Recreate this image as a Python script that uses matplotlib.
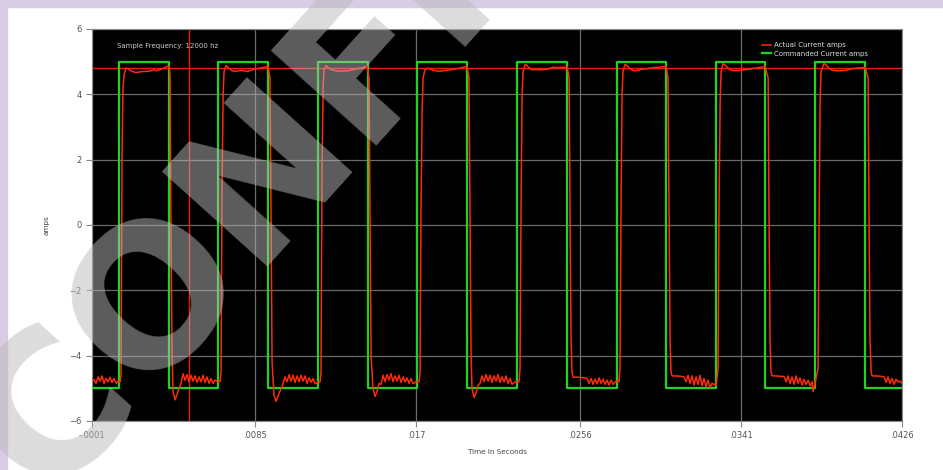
import matplotlib
matplotlib.use("Agg")
import matplotlib.pyplot as plt
from matplotlib.patches import Rectangle
import numpy as np

# commanded square wave edges (ms)
cmd_rise_ms = [1.32, 6.54, 11.81, 17.03, 22.30, 27.58, 32.80, 38.01]
cmd_fall_ms = [3.96, 9.18, 14.45, 19.67, 24.94, 30.16, 35.38, 40.65]
cmd_high = 5.0
cmd_low = -5.0

# actual current trace (time in ms, amps)
actual_ms = [
    -0.10, 0.01, 0.11, 0.22, 0.32, 0.43, 0.53, 0.64, 0.74, 0.85, 0.95, 1.06, 1.17, 1.27, 1.38,
    1.43, 1.48, 1.53, 1.59, 1.69,
    1.80, 1.96, 2.11, 2.27, 2.43, 2.59, 2.75, 2.90, 3.06, 3.17, 3.27, 3.43, 3.59, 3.75, 3.85, 3.96,
    4.01, 4.06, 4.12, 4.17, 4.28,
    4.43, 4.59, 4.70, 4.80, 4.91, 5.01, 5.12, 5.22, 5.33, 5.44, 5.54, 5.65, 5.75, 5.86, 5.96,
    6.07, 6.17, 6.28, 6.38, 6.54, 6.65,
    6.70, 6.75, 6.81, 6.86, 6.96,
    7.12, 7.28, 7.49, 7.70, 7.91, 8.12, 8.33, 8.55, 8.76, 8.97, 9.18,
    9.28, 9.34, 9.39, 9.49, 9.60,
    9.76, 9.92, 10.07, 10.18, 10.29, 10.39, 10.50, 10.60, 10.71, 10.81, 10.92, 11.02, 11.13,
    11.23, 11.34, 11.45, 11.55, 11.66, 11.81, 11.92,
    11.97, 12.02, 12.08, 12.13, 12.24,
    12.39, 12.55, 12.76, 12.97, 13.18, 13.40, 13.61, 13.82, 14.03, 14.24, 14.40,
    14.50, 14.56, 14.61, 14.71, 14.82,
    14.92, 15.03, 15.14, 15.24, 15.35, 15.45, 15.56, 15.66, 15.77, 15.87, 15.98, 16.08, 16.19,
    16.30, 16.40, 16.51, 16.61, 16.72, 16.82, 16.98, 17.14,
    17.19, 17.24, 17.30, 17.35, 17.45, 17.61,
    17.82, 18.03, 18.25, 18.46, 18.67, 18.88, 19.09, 19.30, 19.51, 19.67,
    19.77, 19.83, 19.88, 19.93, 20.04,
    20.14, 20.25, 20.35, 20.46, 20.56, 20.67, 20.78, 20.88, 20.99, 21.09, 21.20, 21.30, 21.41,
    21.51, 21.62, 21.72, 21.83, 21.94, 22.04, 22.20, 22.41,
    22.46, 22.52, 22.57, 22.62, 22.73,
    22.83, 22.99, 23.15, 23.36, 23.57, 23.78, 23.99, 24.20, 24.41, 24.62, 24.83, 24.94,
    25.05, 25.10, 25.15, 25.20, 25.26,
    25.47, 25.68, 25.89, 25.99, 26.10, 26.21, 26.31, 26.42, 26.52, 26.63, 26.73, 26.84, 26.94,
    27.05, 27.15, 27.26, 27.37, 27.52, 27.68,
    27.73, 27.79, 27.84, 27.89, 28.00,
    28.10, 28.26, 28.47, 28.68, 28.89, 29.10, 29.32, 29.53, 29.74, 29.95, 30.16,
    30.26, 30.32, 30.37, 30.42, 30.48,
    30.69, 30.90, 31.11, 31.21, 31.32, 31.42, 31.53, 31.64, 31.74, 31.85, 31.95, 32.06, 32.16,
    32.27, 32.37, 32.48, 32.58, 32.80,
    32.90, 32.95, 33.01, 33.06, 33.16,
    33.27, 33.43, 33.59, 33.80, 34.01, 34.22, 34.43, 34.64, 34.85, 35.06, 35.27, 35.38,
    35.54, 35.59, 35.64, 35.69, 35.75,
    35.96, 36.17, 36.38, 36.49, 36.59, 36.70, 36.80, 36.91, 37.01, 37.12, 37.22, 37.33, 37.43,
    37.54, 37.65, 37.75, 37.86, 37.91, 38.01,
    38.17, 38.23, 38.28, 38.33, 38.49,
    38.59, 38.75, 38.91, 39.12, 39.33, 39.54, 39.75, 39.96, 40.18, 40.39, 40.60, 40.65,
    40.81, 40.86, 40.91, 40.97, 41.02,
    41.23, 41.44, 41.65, 41.76, 41.86, 41.97, 42.07, 42.18, 42.28, 42.39, 42.49, 42.60,
]
actual_amps = [
    -4.70, -4.75, -4.85, -4.65, -4.78, -4.62, -4.85, -4.70, -4.80, -4.66, -4.82, -4.70, -4.85, -4.78, -4.80,
    -4.60, 2.00, 4.20, 4.60, 4.80,
    4.78, 4.72, 4.68, 4.67, 4.69, 4.70, 4.70, 4.71, 4.73, 4.76, 4.72, 4.75, 4.78, 4.82, 4.86, 4.85,
    4.60, 0.00, -4.00, -5.10, -5.35,
    -5.10, -4.85, -4.55, -4.75, -4.58, -4.80, -4.60, -4.78, -4.62, -4.82, -4.65, -4.80, -4.60, -4.82, -4.65,
    -4.85, -4.70, -4.85, -4.75, -4.80, -4.80,
    -4.50, 1.00, 4.00, 4.70, 4.88,
    4.80, 4.72, 4.70, 4.73, 4.72, 4.70, 4.75, 4.78, 4.80, 4.83, 4.85,
    4.50, 0.00, -4.20, -5.20, -5.40,
    -5.15, -4.95, -4.65, -4.80, -4.58, -4.78, -4.60, -4.82, -4.62, -4.80, -4.60, -4.78, -4.62,
    -4.85, -4.68, -4.82, -4.70, -4.86, -4.80, -4.80,
    -4.50, 1.50, 4.20, 4.75, 4.88,
    4.80, 4.75, 4.72, 4.70, 4.72, 4.72, 4.75, 4.78, 4.80, 4.83, 4.86,
    4.50, 0.00, -4.00, -5.00, -5.25,
    -5.10, -4.85, -4.88, -4.60, -4.80, -4.58, -4.75, -4.55, -4.80, -4.62, -4.78, -4.60, -4.82,
    -4.65, -4.80, -4.68, -4.85, -4.70, -4.86, -4.80, -4.80,
    -4.50, 0.50, 3.50, 4.50, 4.75, 4.80,
    4.75, 4.72, 4.70, 4.73, 4.74, 4.76, 4.78, 4.80, 4.84, 4.86,
    4.50, 0.00, -4.00, -5.00, -5.28,
    -5.15, -4.90, -4.85, -4.62, -4.80, -4.58, -4.78, -4.60, -4.82, -4.62, -4.78, -4.58, -4.82,
    -4.65, -4.80, -4.62, -4.85, -4.70, -4.88, -4.80, -4.80,
    -4.40, 1.00, 4.00, 4.70, 4.92,
    4.88, 4.78, 4.75, 4.76, 4.75, 4.76, 4.78, 4.83, 4.82, 4.82, 4.83, 4.85,
    4.50, 0.00, -3.50, -4.50, -4.66,
    -4.66, -4.67, -4.68, -4.70, -4.85, -4.70, -4.88, -4.72, -4.86, -4.68, -4.85, -4.72, -4.88,
    -4.75, -4.90, -4.75, -4.88, -4.78, -4.80,
    -4.40, 1.00, 4.00, 4.70, 4.92,
    4.88, 4.78, 4.72, 4.74, 4.77, 4.78, 4.80, 4.82, 4.83, 4.84, 4.86,
    4.50, 0.00, -3.50, -4.50, -4.62,
    -4.62, -4.63, -4.65, -4.80, -4.60, -4.85, -4.62, -4.90, -4.65, -4.88, -4.60, -4.92, -4.70,
    -4.95, -4.75, -4.98, -4.85, -4.90,
    -4.40, 0.50, 3.80, 4.70, 4.95,
    4.90, 4.80, 4.74, 4.72, 4.73, 4.75, 4.76, 4.78, 4.80, 4.82, 4.84, 4.85,
    4.50, 0.00, -3.50, -4.50, -4.62,
    -4.62, -4.63, -4.64, -4.80, -4.62, -4.85, -4.65, -4.88, -4.62, -4.85, -4.68, -4.90, -4.72,
    -4.88, -4.75, -4.92, -4.80, -5.10, -4.85,
    -4.40, 0.50, 3.80, 4.70, 4.96,
    4.90, 4.80, 4.74, 4.72, 4.72, 4.73, 4.75, 4.78, 4.80, 4.81, 4.82, 4.83,
    4.50, 0.00, -3.50, -4.50, -4.62,
    -4.62, -4.63, -4.65, -4.82, -4.65, -4.85, -4.70, -4.88, -4.72, -4.80, -4.78, -4.85,
]

cursor_amps = 4.81
cursor_time = 0.00501

x_ticks = [-0.0001, 0.0085, 0.017, 0.0256, 0.0341, 0.0426]
x_labels = ['-.0001', '.0085', '.017', '.0256', '.0341', '.0426']
y_ticks = [-6, -4, -2, 0, 2, 4, 6]

# build commanded step trace from the edges
cmd_t = [x_ticks[0]]
cmd_v = [cmd_low]
for r, f in zip(cmd_rise_ms, cmd_fall_ms):
    cmd_t += [r / 1000, r / 1000, f / 1000, f / 1000]
    cmd_v += [cmd_low, cmd_high, cmd_high, cmd_low]
cmd_t.append(x_ticks[-1])
cmd_v.append(cmd_low)

act_t = np.array(actual_ms) / 1000

fig = plt.figure(figsize=(9.43, 4.70), dpi=100)
fig.patch.set_facecolor('white')
lav = '#d9cde6'
fig.patches.append(Rectangle((0, 1 - 7 / 470), 1, 7 / 470, transform=fig.transFigure,
                             color=lav, zorder=0))
fig.patches.append(Rectangle((0, 0), 7 / 943, 1, transform=fig.transFigure,
                             color=lav, zorder=0))

ax = fig.add_axes([0.0976, 0.1043, 0.859, 0.834])
ax.set_facecolor('black')

ax.set_xticks(x_ticks)
ax.set_xticklabels(x_labels)
ax.set_yticks(y_ticks)
ax.set_xlim(x_ticks[0], x_ticks[-1])
ax.set_ylim(-6, 6)
ax.grid(True, color='#6a6a6a', linewidth=0.9)
ax.set_axisbelow(True)
ax.tick_params(colors='#888888', labelcolor='#555555', labelsize=6, length=4, width=0.8)
for s in ax.spines.values():
    s.set_color('#888888')
    s.set_linewidth(0.8)

ax.axhline(cursor_amps, color='#ee1a10', linewidth=1.0, zorder=2)
ax.axvline(cursor_time, color='#ee1a10', linewidth=1.0, zorder=2)

ax.plot(cmd_t, cmd_v, color='#1ed41e', linewidth=1.6, label='Commanded Current amps', zorder=3)
ax.plot(act_t, actual_amps, color='#ff2a0a', linewidth=1.1, label='Actual Current amps', zorder=4)

h, l = ax.get_legend_handles_labels()
ax.legend(h[::-1], l[::-1], loc='upper right', bbox_to_anchor=(0.965, 0.98),
          frameon=False, fontsize=5, labelcolor='#dddddd', handlelength=1.4,
          handletextpad=0.4, labelspacing=0.35, borderpad=0.3)

ax.text(0.031, 0.957, 'Sample Frequency: 12000 hz', transform=ax.transAxes,
        color='#cccccc', fontsize=5, va='center', ha='left')

ax.set_xlabel('Time in Seconds', fontsize=5.2, color='#444444')
ax.set_ylabel('amps', fontsize=5.2, color='#444444')
ax.xaxis.set_label_coords(0.5, -0.071)
ax.yaxis.set_label_coords(-0.052, 0.5)

# watermark
fig.text(0.05, -0.065, 'CONFIDENTIAL', transform=fig.transFigure, fontsize=140,
         fontweight='bold', color='#bababa', alpha=0.5, rotation=48,
         rotation_mode='anchor', ha='left', va='baseline', zorder=10)

fig.savefig('out.png', dpi=100)
